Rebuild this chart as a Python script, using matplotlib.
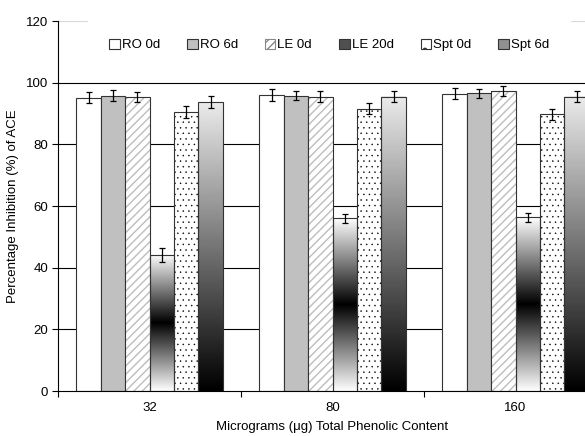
import numpy as np
import matplotlib.pyplot as plt
from matplotlib.patches import Patch

plt.rcParams['font.family'] = ['Liberation Sans', 'DejaVu Sans']
plt.rcParams['hatch.linewidth'] = 1.0

# Data
doses = ['32', '80', '160']
series = ['RO 0d', 'RO 6d', 'LE 0d', 'LE 20d', 'Spt 0d', 'Spt 6d']
values = {
    'RO 0d':  [95.1, 96.0, 96.4],
    'RO 6d':  [95.7, 95.8, 96.5],
    'LE 0d':  [95.4, 95.5, 97.2],
    'LE 20d': [44.2, 56.0, 56.3],
    'Spt 0d': [90.4, 91.6, 89.8],
    'Spt 6d': [93.7, 95.4, 95.4],
}
errors = {
    'RO 0d':  [1.8, 1.8, 1.8],
    'RO 6d':  [1.8, 1.5, 1.4],
    'LE 0d':  [1.6, 1.7, 1.6],
    'LE 20d': [2.2, 1.5, 1.4],
    'Spt 0d': [1.9, 1.9, 1.8],
    'Spt 6d': [1.9, 1.8, 1.8],
}

W, H = 585, 436
fs = 9.5
fig = plt.figure(figsize=(W / 100, H / 100), dpi=100)
# axes runs past the right edge, like the cropped original
ax = fig.add_axes([58 / W, 45 / H, 549 / W, 370 / H])

bw = 0.8 / len(series)
centers = np.arange(len(doses)) + 0.5

# gradient profiles (0 = black, 1 = white), bottom to top
t = np.linspace(0, 1, 256)
grad_mid = np.abs(t - 0.5) * 2          # white-black-white
grad_up = t * 0.92                       # black-light grey

for i, s in enumerate(series):
    xs = centers - 0.4 + bw * (i + 0.5)
    vals = values[s]
    if s == 'RO 0d':
        ax.bar(xs, vals, bw, color='white', edgecolor='#333333', lw=0.8, zorder=2)
    elif s == 'RO 6d':
        ax.bar(xs, vals, bw, color='#c0c0c0', edgecolor='#333333', lw=0.8, zorder=2)
    elif s == 'LE 0d':
        ax.bar(xs, vals, bw, color='white', edgecolor='#bdbdbd', hatch='////', lw=0, zorder=2)
        ax.bar(xs, vals, bw, color='none', edgecolor='#333333', lw=0.8, zorder=3)
    elif s == 'Spt 0d':
        with plt.rc_context({'hatch.linewidth': 0.3}):
            ax.bar(xs, vals, bw, color='white', edgecolor='black', hatch='...', lw=0, zorder=2)
        ax.bar(xs, vals, bw, color='none', edgecolor='#333333', lw=0.8, zorder=3)
    else:
        prof = grad_mid if s == 'LE 20d' else grad_up
        bars = ax.bar(xs, vals, bw, color='none', edgecolor='#333333', lw=0.8, zorder=3)
        for b, v in zip(bars, vals):
            x0 = b.get_x()
            ax.imshow(prof[:, None], cmap='gray', vmin=0, vmax=1, origin='lower',
                      extent=[x0, x0 + bw, 0, v], aspect='auto', zorder=2,
                      interpolation='bilinear')
    ax.errorbar(xs, vals, yerr=errors[s], fmt='none', ecolor='black',
                elinewidth=0.9, capsize=2.5, capthick=0.9, zorder=4)

ax.set_xlim(0, 3)
ax.set_ylim(0, 120)
ax.set_aspect('auto')

# gridlines
for g in range(20, 101, 20):
    ax.axhline(g, color='black', lw=0.8, zorder=1)
ax.axhline(120, color='#d8d8d8', lw=0.8, zorder=1)

ax.set_yticks(range(0, 121, 20))
ax.set_xticks([0, 1, 2, 3])
ax.set_xticklabels([])
ax.set_xticks(centers, minor=True)
ax.set_xticklabels(doses, minor=True)
ax.tick_params(axis='x', which='minor', length=0, pad=8, labelsize=fs)
ax.tick_params(axis='x', which='major', length=4, width=0.8)
ax.tick_params(axis='y', length=4, width=0.8, labelsize=fs, pad=3)

for side in ['top', 'right']:
    ax.spines[side].set_visible(False)
ax.spines['left'].set_linewidth(0.8)
ax.spines['bottom'].set_linewidth(0.8)

ax.set_ylabel('Percentage Inhibition (%) of ACE', fontsize=fs, labelpad=5)
ax.set_xlabel('Micrograms (\u03bcg) Total Phenolic Content', fontsize=fs, labelpad=5)

handles = [
    Patch(facecolor='white', edgecolor='#333333', lw=0.8),
    Patch(facecolor='#c0c0c0', edgecolor='#333333', lw=0.8),
    Patch(facecolor='white', edgecolor='#888888', hatch='////', lw=0.8),
    Patch(facecolor='#505050', edgecolor='#333333', lw=0.8),
    Patch(facecolor='white', edgecolor='#333333', hatch='.', lw=0.8),
    Patch(facecolor='#909090', edgecolor='#333333', lw=0.8),
]
leg = ax.legend(handles, series, loc='center', bbox_to_anchor=(0.494, 0.935),
                ncol=6, frameon=True, fontsize=fs, handlelength=0.8, handleheight=0.8,
                handletextpad=0.15, columnspacing=2.05, borderpad=1.6)
leg.get_frame().set_edgecolor('white')
leg.get_frame().set_facecolor('white')
leg.get_frame().set_alpha(1)
leg.set_zorder(5)

fig.savefig('out.png', dpi=100)
